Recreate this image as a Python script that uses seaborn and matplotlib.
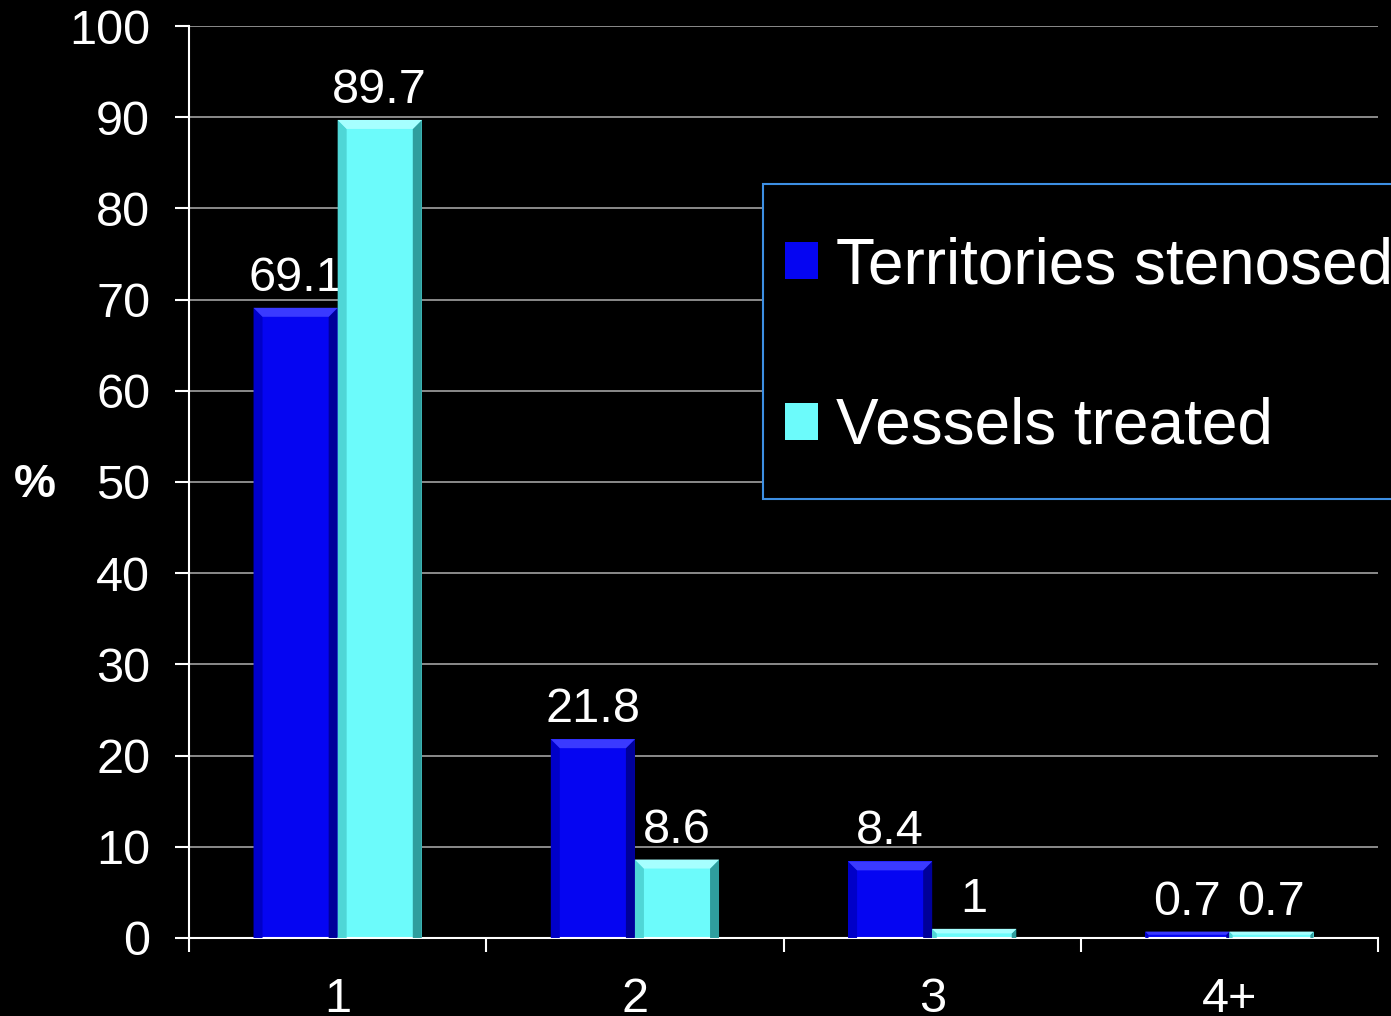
import pandas as pd
import seaborn as sns
import matplotlib.pyplot as plt
from matplotlib.patches import Polygon, Rectangle

# Data
categories = ['1', '2', '3', '4+']
territories_stenosed = [69.1, 21.8, 8.4, 0.7]
vessels_treated = [89.7, 8.6, 1.0, 0.7]
series_names = ['Territories stenosed', 'Vessels treated']
yticks = list(range(0, 101, 10))

df = pd.DataFrame({
    'count': categories * 2,
    'pct': territories_stenosed + vessels_treated,
    'series': [series_names[0]] * 4 + [series_names[1]] * 4,
})

sns.set_style('dark')
plt.rcParams['font.family'] = ['Liberation Sans', 'DejaVu Sans']
plt.rcParams['text.color'] = 'white'

fig = plt.figure(figsize=(13.91, 10.16), dpi=100, facecolor='black')
ax = fig.add_axes([0.1359, 0.0768, 0.8548, 0.8976])
ax.set_facecolor('black')

sns.barplot(data=df, x='count', y='pct', hue='series', order=categories,
            palette=['#0505f2', '#6cfbfb'], saturation=1, width=0.566,
            gap=0, ax=ax, edgecolor='none', linewidth=0)

for cont in ax.containers:
    ax.bar_label(cont, fmt='%g', padding=5, color='white', fontsize=35)

# Axes styling
ax.set_ylim(0, 100)
ax.set_xlim(-0.5, 3.5)
ax.set_yticks(yticks)
ax.tick_params(axis='y', colors='white', labelsize=35, length=10, width=1.5,
               pad=18, direction='out', left=True)
ax.set_xticks([-0.5, 0.5, 1.5, 2.5, 3.5])
ax.set_xticklabels([])
ax.set_xticks(range(4), labels=categories, minor=True)
ax.tick_params(axis='x', which='major', colors='white', length=10, width=1.5,
               direction='out', bottom=True)
ax.tick_params(axis='x', which='minor', colors='white', labelsize=35,
               length=0, pad=28)

ax.grid(axis='y', color='#8a8a8a', linewidth=1.4)
ax.grid(axis='x', visible=False)
ax.set_axisbelow(True)
for side in ['top', 'right']:
    ax.spines[side].set_visible(False)
for side in ['left', 'bottom']:
    ax.spines[side].set_visible(True)
    ax.spines[side].set_color('white')
    ax.spines[side].set_linewidth(1.5)

ax.set_xlabel('')
ax.set_ylabel('%', rotation=0, fontsize=34, fontweight='bold', color='white',
              va='center', ha='center')
ax.yaxis.set_label_coords(-0.1295, 0.497)

# bevel look on the bars (pixel geometry taken from the drawn patches)
bevel_cols = [('#3a3aff', '#0000c8', '#00009a', '#0000b0'),
              ('#a6ffff', '#4fd6d6', '#2f9e9e', '#48bcbc')]
for cont, cols in zip(ax.containers[:2], bevel_cols):
    for p in cont.patches:
        (x0, y0), (x1, y1) = ax.transData.transform(
            [(p.get_x(), 0), (p.get_x() + p.get_width(), p.get_height())])
        b = min(9, (y1 - y0) / 2)
        top = [(x0, y1), (x1, y1), (x1 - b, y1 - b), (x0 + b, y1 - b)]
        left = [(x0, y0), (x0, y1), (x0 + b, y1 - b), (x0 + b, y0)]
        right = [(x1, y0), (x1, y1), (x1 - b, y1 - b), (x1 - b, y0)]
        for pts, c in zip([left, right, top], [cols[1], cols[2], cols[0]]):
            ax.add_patch(Polygon(pts, closed=True, transform=None,
                                 facecolor=c, edgecolor='none', zorder=3))

# Legend
frame = Rectangle((0.4828, 0.4814), 0.6, 0.3454, transform=ax.transAxes,
                  facecolor='black', edgecolor='#3d8fe3', linewidth=1.5,
                  clip_on=False, zorder=4.5)
ax.add_patch(frame)
leg = ax.legend(loc='upper left', bbox_to_anchor=(0.5013, 0.7697),
                fontsize=46, frameon=False, handlelength=0.52,
                handleheight=0.52, handletextpad=0.27, labelspacing=1.58,
                borderpad=0, borderaxespad=0)
leg.set_zorder(5)
for t in leg.get_texts():
    t.set_color('white')

plt.savefig('out.png', dpi=100, facecolor='black')
